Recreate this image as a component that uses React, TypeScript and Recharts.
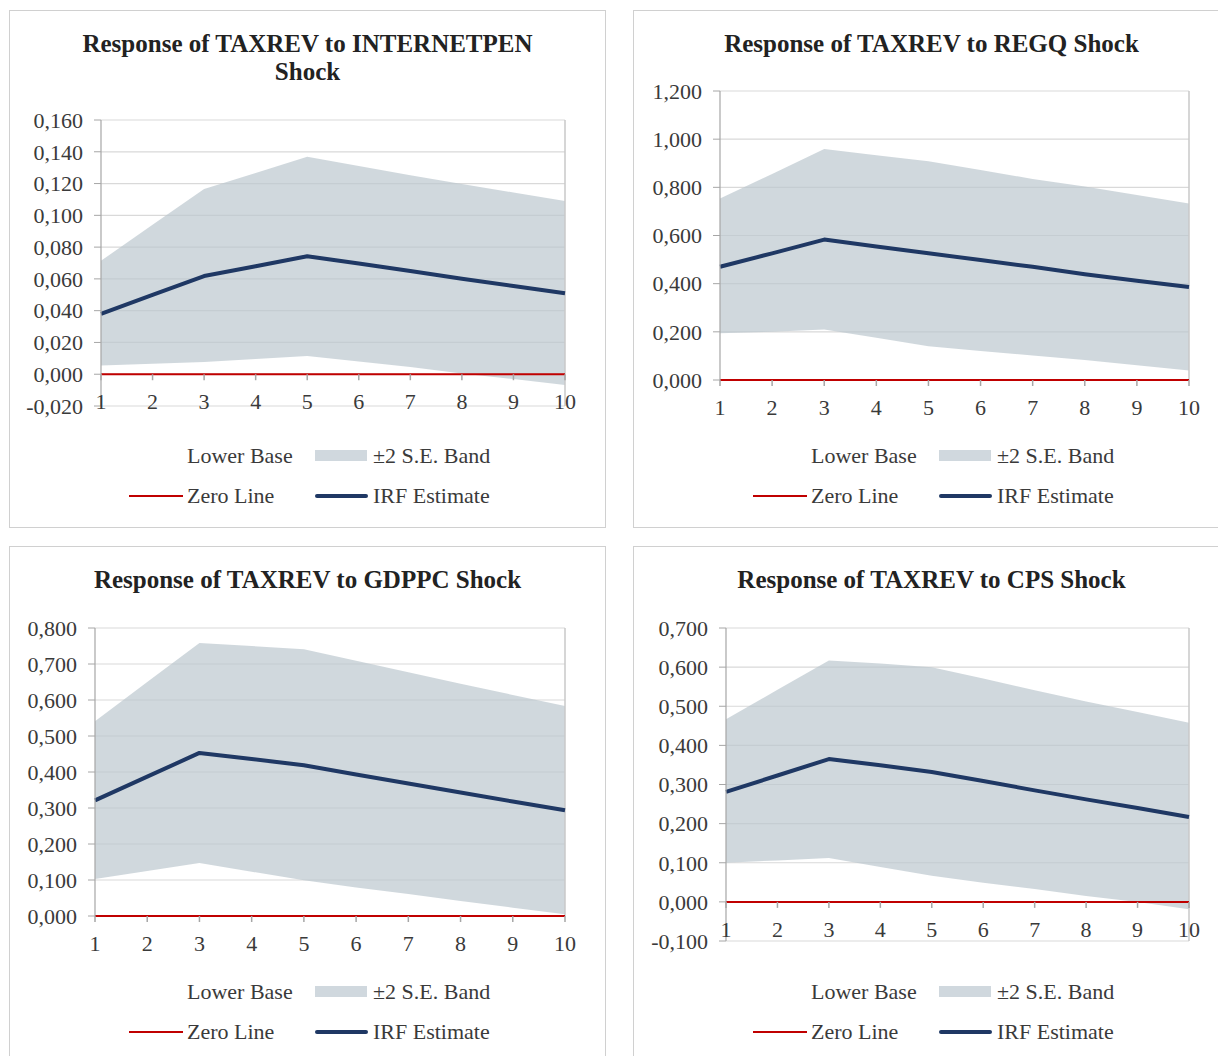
import React from 'react';
import {
  ComposedChart,
  Area,
  Line,
  XAxis,
  YAxis,
  CartesianGrid,
  ReferenceDot,
  ReferenceLine,
  Legend,
} from 'recharts';

// ---------- data ----------
const steps = [1, 2, 3, 4, 5, 6, 7, 8, 9, 10];
const stepLabels = ['1', '2', '3', '4', '5', '6', '7', '8', '9', '10'];
const zeroLine = [0, 0, 0, 0, 0, 0, 0, 0, 0, 0];

const titleInternet = ['Response of TAXREV to INTERNETPEN', 'Shock'];
const titleRegq = ['Response of TAXREV to REGQ Shock'];
const titleGdppc = ['Response of TAXREV to GDPPC Shock'];
const titleCps = ['Response of TAXREV to CPS Shock'];

const internetIrf = [0.038, 0.05, 0.0618, 0.068, 0.0742, 0.0697, 0.065, 0.0601, 0.0555, 0.051];
const internetUpper = [0.0714, 0.094, 0.1165, 0.1267, 0.1369, 0.131, 0.1252, 0.1197, 0.1144, 0.109];
const internetLower = [0.0055, 0.0066, 0.0077, 0.0096, 0.0115, 0.008, 0.0045, 0.0004, -0.003, -0.0068];
const internetTicks = [-0.02, 0, 0.02, 0.04, 0.06, 0.08, 0.1, 0.12, 0.14, 0.16];

const regqIrf = [0.47, 0.526, 0.583, 0.554, 0.526, 0.498, 0.47, 0.439, 0.412, 0.386];
const regqUpper = [0.754, 0.855, 0.959, 0.933, 0.908, 0.872, 0.835, 0.803, 0.768, 0.733];
const regqLower = [0.194, 0.2, 0.21, 0.175, 0.14, 0.12, 0.102, 0.083, 0.061, 0.039];
const regqTicks = [0, 0.2, 0.4, 0.6, 0.8, 1.0, 1.2];

const gdppcIrf = [0.321, 0.387, 0.453, 0.436, 0.419, 0.393, 0.368, 0.343, 0.318, 0.294];
const gdppcUpper = [0.541, 0.65, 0.758, 0.75, 0.741, 0.709, 0.677, 0.645, 0.614, 0.583];
const gdppcLower = [0.103, 0.125, 0.147, 0.123, 0.099, 0.079, 0.061, 0.042, 0.023, 0.005];
const gdppcTicks = [0, 0.1, 0.2, 0.3, 0.4, 0.5, 0.6, 0.7, 0.8];

const cpsIrf = [0.281, 0.323, 0.365, 0.349, 0.332, 0.309, 0.285, 0.262, 0.24, 0.217];
const cpsUpper = [0.467, 0.542, 0.617, 0.609, 0.6, 0.571, 0.541, 0.512, 0.485, 0.458];
const cpsLower = [0.1, 0.106, 0.112, 0.089, 0.067, 0.049, 0.033, 0.015, 0.0, -0.019];
const cpsTicks = [-0.1, 0, 0.1, 0.2, 0.3, 0.4, 0.5, 0.6, 0.7];

const legendLabels = ['Lower Base', '\u00b12 S.E. Band', 'Zero Line', 'IRF Estimate'];

// ---------- styles ----------
const FONT = "'Liberation Serif', 'Times New Roman', serif";
const TEXT = '#3A3A3A';
const TITLE = '#222222';
const BAND_FILL = '#BCC8CF';
const BAND_SOLID = '#D0D8DE';
const NAVY = '#1F3864';
const RED = '#C00000';
const GRID = '#D9D9D9';
const AXIS = '#A6A6A6';
const PANEL_W = 597;
const PANEL_H = 518;

const buildData = (irf: number[], upper: number[], lower: number[]) =>
  steps.map((s, i) => ({ step: s, band: [lower[i], upper[i]], irf: irf[i], zero: zeroLine[i] }));

const panels = [
  { id: 'internet', left: 9, top: 10, title: titleInternet, data: buildData(internetIrf, internetUpper, internetLower), ticks: internetTicks, plot: { left: 92, top: 110, width: 464, height: 286 } },
  { id: 'regq', left: 633, top: 10, title: titleRegq, data: buildData(regqIrf, regqUpper, regqLower), ticks: regqTicks, plot: { left: 87, top: 81, width: 469, height: 289 } },
  { id: 'gdppc', left: 9, top: 546, title: titleGdppc, data: buildData(gdppcIrf, gdppcUpper, gdppcLower), ticks: gdppcTicks, plot: { left: 86, top: 82, width: 470, height: 288 } },
  { id: 'cps', left: 633, top: 546, title: titleCps, data: buildData(cpsIrf, cpsUpper, cpsLower), ticks: cpsTicks, plot: { left: 93, top: 82, width: 463, height: 313 } },
];

const fmt = (v: number) => v.toFixed(3).replace('.', ',');

const XTick = ({ cx, cy, text }: { cx?: number; cy?: number; text: string }) => {
  if (cx == null || cy == null) return null;
  return (
    <g>
      <line x1={cx} y1={cy} x2={cx} y2={cy + 6} stroke={AXIS} strokeWidth={1.5} />
      <text x={cx} y={cy + 27} dy="0.355em" textAnchor="middle" fontFamily={FONT} fontSize={22} fill={TEXT}>
        {text}
      </text>
    </g>
  );
};

const LegendBlock = () => {
  const txt: React.CSSProperties = {
    position: 'absolute',
    lineHeight: '24px',
    whiteSpace: 'nowrap',
    fontFamily: FONT,
    fontSize: 22,
    color: TEXT,
  };
  return (
    <div style={{ position: 'relative', width: PANEL_W, height: 80 }}>
      <span style={{ ...txt, left: 178, top: 8 }}>{legendLabels[0]}</span>
      <div style={{ position: 'absolute', left: 306, top: 14, width: 52, height: 11, background: BAND_SOLID }} />
      <span style={{ ...txt, left: 364, top: 8 }}>{legendLabels[1]}</span>
      <div style={{ position: 'absolute', left: 120, top: 59, width: 54, height: 2, background: RED }} />
      <span style={{ ...txt, left: 178, top: 48 }}>{legendLabels[2]}</span>
      <div style={{ position: 'absolute', left: 306, top: 58, width: 53, height: 4, borderRadius: 2, background: NAVY }} />
      <span style={{ ...txt, left: 364, top: 48 }}>{legendLabels[3]}</span>
    </div>
  );
};

const Panel = ({ p }: { p: (typeof panels)[number] }) => {
  const margin = {
    left: 0,
    top: p.plot.top,
    right: PANEL_W - p.plot.left - p.plot.width,
    bottom: PANEL_H - p.plot.top - p.plot.height,
  };
  const yMin = p.ticks[0];
  const yMax = p.ticks[p.ticks.length - 1];
  return (
    <div
      style={{
        position: 'absolute',
        left: p.left,
        top: p.top,
        width: PANEL_W,
        height: PANEL_H,
        border: '1px solid #D0D0D0',
        boxSizing: 'border-box',
        background: '#fff',
      }}
    >
      <div
        style={{
          position: 'absolute',
          left: -1,
          top: 19,
          width: PANEL_W,
          textAlign: 'center',
          fontFamily: FONT,
          fontWeight: 'bold',
          fontSize: 25,
          lineHeight: '28px',
          color: TITLE,
        }}
      >
        {p.title.map((t) => (
          <div key={t}>{t}</div>
        ))}
      </div>
      <div style={{ position: 'absolute', left: -1, top: -1 }}>
        <ComposedChart width={PANEL_W} height={PANEL_H} data={p.data} margin={margin}>
          <CartesianGrid horizontal vertical={false} stroke={GRID} strokeWidth={1.2} />
          <XAxis dataKey="step" type="number" domain={[1, 10]} hide />
          <YAxis
            type="number"
            domain={[yMin, yMax]}
            ticks={p.ticks}
            interval={0}
            width={p.plot.left}
            tickFormatter={fmt}
            tick={{ fontSize: 22, fill: TEXT, fontFamily: FONT }}
            tickSize={7}
            tickMargin={11}
            stroke={AXIS}
            tickLine={{ stroke: AXIS }}
            axisLine={{ stroke: AXIS, strokeWidth: 1.2 }}
          />
          <Area
            dataKey="band"
            type="linear"
            stroke="none"
            fill={BAND_FILL}
            fillOpacity={0.7}
            isAnimationActive={false}
            name={legendLabels[1]}
          />
          <ReferenceLine x={10} stroke="#C8C8C8" strokeWidth={1.5} />
          <Line
            dataKey="zero"
            type="linear"
            stroke={RED}
            strokeWidth={2}
            dot={false}
            isAnimationActive={false}
            name={legendLabels[2]}
          />
          {steps.map((s, i) => (
            <ReferenceDot
              key={s}
              x={s}
              y={0}
              r={1}
              ifOverflow="visible"
              shape={(props: any) => <XTick cx={props.cx} cy={props.cy} text={stepLabels[i]} />}
            />
          ))}
          <Line
            dataKey="irf"
            type="linear"
            stroke={NAVY}
            strokeWidth={4}
            strokeLinejoin="round"
            dot={false}
            isAnimationActive={false}
            name={legendLabels[3]}
          />
          <Legend
            layout="horizontal"
            verticalAlign="middle"
            align="center"
            width={PANEL_W}
            wrapperStyle={{ left: 0, top: 426, width: PANEL_W, height: 80 }}
            content={() => <LegendBlock />}
          />
        </ComposedChart>
      </div>
    </div>
  );
}

export default function App() {
  return (
    <div
      style={{
        position: 'absolute',
        left: 0,
        top: 0,
        width: 1218,
        height: 1056,
        overflow: 'hidden',
        background: '#fff',
      }}
    >
      {panels.map((p) => (
        <Panel key={p.id} p={p} />
      ))}
    </div>
  );
}
